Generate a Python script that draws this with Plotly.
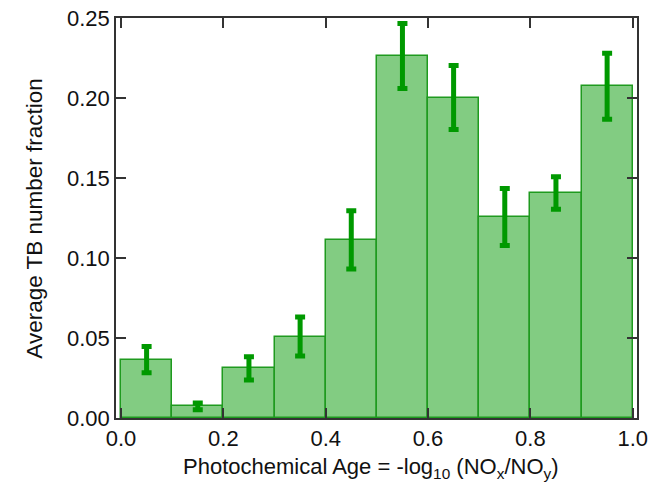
import plotly.graph_objects as go

bin_centers = [0.05, 0.15, 0.25, 0.35, 0.45, 0.55, 0.65, 0.75, 0.85, 0.95]
tb_fraction = [0.0365, 0.0073, 0.0310, 0.0509, 0.1113, 0.2263, 0.2003, 0.1256, 0.1406, 0.2073]
tb_error = [0.0082, 0.0021, 0.0073, 0.0122, 0.0182, 0.0203, 0.0200, 0.0178, 0.0102, 0.0206]
x_ticks = [0.0, 0.2, 0.4, 0.6, 0.8, 1.0]
y_ticks = [0.00, 0.05, 0.10, 0.15, 0.20, 0.25]

fig = go.Figure()
fig.add_trace(go.Bar(
    x=bin_centers,
    y=tb_fraction,
    width=0.1,
    marker=dict(color="#82cc82", line=dict(color="#1f9a1f", width=1.5)),
    error_y=dict(type="data", array=tb_error, visible=True,
                 color="#009900", thickness=5, width=5),
    showlegend=False,
))

font_family = "Liberation Sans, Arial, Helvetica, sans-serif"
axis_common = dict(
    showline=True, linecolor="#333333", linewidth=1.5, mirror="ticks",
    ticks="inside", ticklen=10, tickwidth=1.5, tickcolor="#333333",
    showgrid=False, zeroline=False, automargin=False,
    ticklabeloverflow="allow",
    tickfont=dict(family=font_family, size=22, color="#111111"),
)

fig.update_layout(
    width=658, height=496,
    margin=dict(l=116, r=21, t=18, b=78),
    paper_bgcolor="white", plot_bgcolor="white",
    bargap=0,
    font=dict(family=font_family, color="#111111"),
    xaxis=dict(
        range=[-0.0098, 1.0084],
        tickvals=x_ticks, ticktext=[f"{v:.1f}" for v in x_ticks],
        **axis_common,
    ),
    yaxis=dict(
        range=[0, 0.25],
        tickvals=y_ticks, ticktext=[f"{v:.2f}" for v in y_ticks],
        **axis_common,
    ),
    annotations=[
        dict(text="Photochemical Age = -log<sub>10</sub> (NO<sub>x</sub>/NO<sub>y</sub>)",
             xref="paper", yref="paper", x=0.49, y=-0.125,
             xanchor="center", yanchor="middle", showarrow=False,
             font=dict(family=font_family, size=22, color="#111111")),
        dict(text="Average TB number fraction",
             xref="paper", yref="paper", x=-0.158, y=0.5, textangle=-90,
             xanchor="center", yanchor="middle", showarrow=False,
             font=dict(family=font_family, size=22.5, color="#111111")),
    ],
)

# remove the browser's default 8px page margin so the figure fills the window
fig.write_html("out.html", config={"displayModeBar": False},
               post_script="document.body.style.margin='0';")
